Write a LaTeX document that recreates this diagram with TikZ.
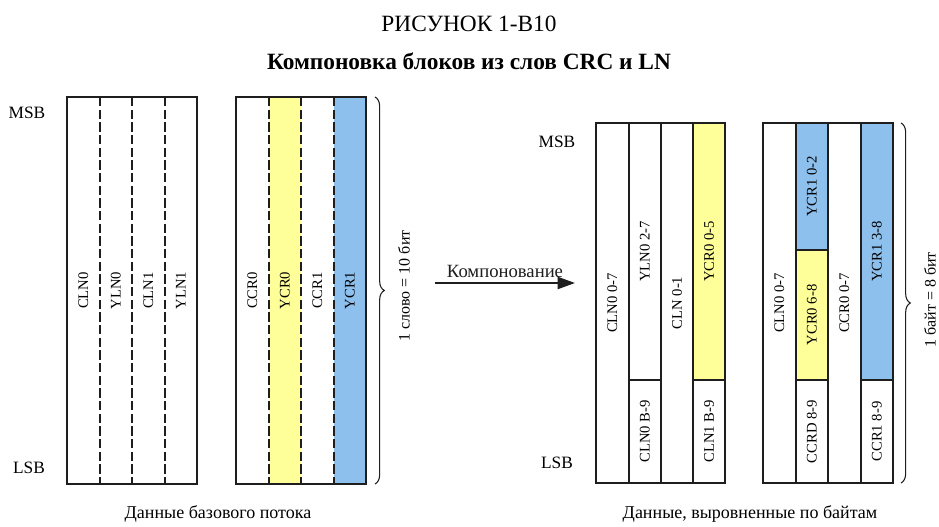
\documentclass[tikz,border=0pt]{standalone}
\usepackage{fontspec}
\setmainfont{Liberation Serif}
\usetikzlibrary{arrows.meta, decorations.pathreplacing, positioning}

\definecolor{ylw}{RGB}{255,255,153}
\definecolor{blu}{RGB}{142,192,238}
\definecolor{ink}{RGB}{30,30,30}

\begin{document}
\begin{tikzpicture}[x=0.75pt, y=-0.75pt,
		cell/.style={draw=ink, line width=1.5pt},
		dcell/.style={draw=ink, line width=1.5pt, dash pattern=on 7pt off 2.5pt},
		lbl/.style={rotate=90, font=\fontsize{11}{13}\selectfont, inner sep=0pt},
		side/.style={font=\fontsize{13}{15}\selectfont, inner sep=0pt},
		caption/.style={font=\fontsize{13.5}{15}\selectfont, inner sep=0pt},
		bracebar/.style={draw=ink, line width=0.8pt, decorate,
			decoration={brace, amplitude=7pt}}
	]
	\useasboundingbox (0,0) rectangle (939,527);

	% headings
	\node (title) at (469,24) {\fontsize{17.5}{20}\selectfont РИСУНОК 1-В10};
	\node (subtitle) at (469,61) {\fontsize{17.5}{20}\selectfont\bfseries Компоновка блоков из слов CRC и LN};

	% base stream, first word group
	\node[side] (msbL) at (27,113) {MSB};
	\node[side] (lsbL) at (29,468) {LSB};
	\draw[cell] (67,97) rectangle (197,484);
	\path (67,97) rectangle node[lbl] (w1) {CLN0} (99.5,484);
	\path (99.5,97) rectangle node[lbl] (w2) {YLN0} (132,484);
	\path (132,97) rectangle node[lbl] (w3) {CLN1} (164.5,484);
	\path (164.5,97) rectangle node[lbl] (w4) {YLN1} (197,484);
	\draw[dcell] (99.5,97) -- (99.5,484);
	\draw[dcell] (132,97) -- (132,484);
	\draw[dcell] (164.5,97) -- (164.5,484);

	% base stream, second word group
	\fill[ylw] (268.5,97) rectangle (301,484);
	\fill[blu] (333.5,97) rectangle (366,484);
	\draw[cell] (236,97) rectangle (366,484);
	\path (236,97) rectangle node[lbl] (w5) {CCR0} (268.5,484);
	\path (268.5,97) rectangle node[lbl] (w6) {YCR0} (301,484);
	\path (301,97) rectangle node[lbl] (w7) {CCR1} (333.5,484);
	\path (333.5,97) rectangle node[lbl] (w8) {YCR1} (366,484);
	\draw[dcell] (268.5,97) -- (268.5,484);
	\draw[dcell] (301,97) -- (301,484);
	\draw[dcell] (333.5,97) -- (333.5,484);

	\coordinate (wtop) at (375,97);
	\coordinate (wbot) at (375,484);
	\draw[bracebar] (wtop) -- (wbot);
	\node[lbl, font=\fontsize{12}{14}\selectfont] (wlen) at (404,286) {1 слово = 10 бит};

	\node[caption] (capL) at (218,514) {Данные базового потока};

	% packing arrow
	\coordinate (pfrom) at (435,283);
	\coordinate (pto) at (575,283);
	\draw[ink, line width=1.6pt, -{Triangle[length=13pt, width=9pt]}] (pfrom) -- (pto)
		node[midway, above=3pt, side, font=\fontsize{14}{16}\selectfont] (pack) {Компонование};

	% byte aligned, first group
	\node[side] (msbR) at (557,142) {MSB};
	\node[side] (lsbR) at (557,463) {LSB};
	\fill[ylw] (693,123) rectangle (725,380);
	\draw[cell] (596,123) rectangle node[lbl] (a1) {CLN0 0-7} (628.5,483);
	\draw[cell] (628.5,123) rectangle node[lbl] (a2) {YLN0 2-7} (661,380);
	\draw[cell] (628.5,380) rectangle node[lbl] (a3) {CLN0 B-9} (661,483);
	\draw[cell] (661,123) rectangle node[lbl] (a4) {CLN 0-1} (693,483);
	\draw[cell] (693,123) rectangle node[lbl] (a5) {YCR0 0-5} (725,380);
	\draw[cell] (693,380) rectangle node[lbl] (a6) {CLN1 B-9} (725,483);

	% byte aligned, second group
	\fill[blu] (795.5,123) rectangle (828,250);
	\fill[ylw] (795.5,250) rectangle (828,380);
	\fill[blu] (860.5,123) rectangle (893,380);
	\draw[cell] (763,123) rectangle node[lbl] (c1) {CLN0 0-7} (795.5,483);
	\draw[cell] (795.5,123) rectangle node[lbl] (c2) {YCR1 0-2} (828,250);
	\draw[cell] (795.5,250) rectangle node[lbl] (c3) {YCR0 6-8} (828,380);
	\draw[cell] (795.5,380) rectangle node[lbl] (c4) {CCRD 8-9} (828,483);
	\draw[cell] (828,123) rectangle node[lbl] (c5) {CCR0 0-7} (860.5,483);
	\draw[cell] (860.5,123) rectangle node[lbl] (c6) {YCR1 3-8} (893,380);
	\draw[cell] (860.5,380) rectangle node[lbl] (c7) {CCR1 8-9} (893,483);

	\coordinate (btop) at (901,123);
	\coordinate (bbot) at (901,483);
	\draw[bracebar] (btop) -- (bbot);
	\node[lbl, font=\fontsize{12}{14}\selectfont] (blen) at (930,300) {1 байт = 8 бит};

	\node[caption] (capR) at (750,514) {Данные, выровненные по байтам};
\end{tikzpicture}
\end{document}
